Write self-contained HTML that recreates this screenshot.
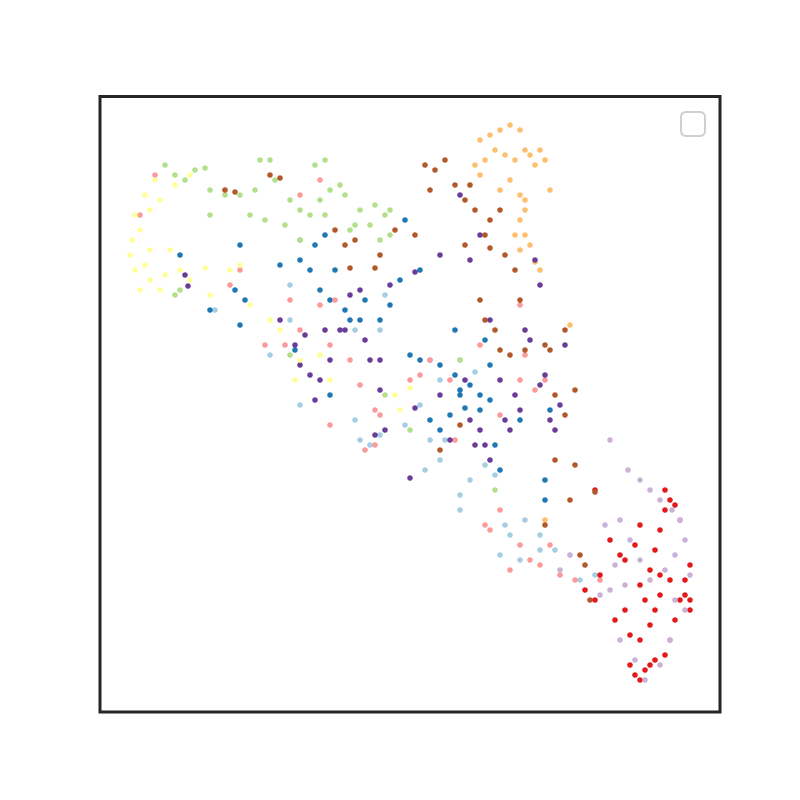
<!DOCTYPE html>
<html><head><meta charset="utf-8"><style>
html,body{margin:0;padding:0;background:#fff;}
svg{display:block;}
</style></head><body>
<svg id="chart" width="800" height="800" viewBox="0 0 800 800">
<rect x="0" y="0" width="800" height="800" fill="#fff"/>
<g id="points"></g>
<rect x="100" y="96.5" width="620" height="615.5" fill="none" stroke="#262626" stroke-width="3"/>
<rect x="681" y="112" width="24" height="24" rx="5" fill="#fff" stroke="#d0d0d0" stroke-width="2"/>
</svg>
<script>
// Series data: embedding coordinates (x, y with y axis inverted)
const seriesNames = ["light-blue","blue","light-green","pink","red","light-orange","light-purple","purple","yellow","brown"];
const seriesColors = ["#a6cee3","#1f78b4","#b2df8a","#fb9a99","#e31a1c","#fdbf6f","#cab2d6","#6a3d9a","#ffff99","#b15928"];
const yellowPts = [[135,215],[140,230],[132,240],[130,255],[135,270],[145,265],[150,280],[160,290],[145,195],[155,180],[160,200],[150,210],[170,250],[180,270],[190,280],[205,268],[140,290],[165,275],[210,295],[230,270],[250,305],[280,330],[300,360],[295,380],[320,355],[330,380],[400,410],[395,395],[410,388],[270,320],[240,265],[175,185],[190,175],[150,250]];
const lightGreenPts = [[165,165],[175,175],[185,180],[195,170],[205,168],[210,190],[225,195],[240,195],[255,190],[270,160],[260,160],[275,180],[290,200],[300,210],[310,215],[320,200],[330,190],[340,185],[315,165],[325,160],[345,195],[360,210],[375,205],[385,215],[370,225],[390,235],[380,240],[300,240],[285,225],[265,220],[250,215],[210,215],[180,290],[175,295],[290,355],[460,360],[495,490],[410,430],[385,395],[325,215],[355,225],[390,210],[350,230]];
const pinkPts = [[155,175],[140,215],[240,270],[230,285],[265,345],[285,345],[300,330],[320,305],[335,300],[330,345],[350,360],[360,385],[375,410],[365,450],[375,445],[380,415],[410,380],[420,375],[430,360],[450,380],[480,345],[520,380],[525,355],[545,380],[535,390],[500,415],[485,525],[490,530],[500,510],[520,545],[530,560],[540,565],[550,545],[560,575],[575,580],[600,580],[510,570],[455,440],[330,425],[320,180],[300,195],[520,305],[290,300],[225,190]];
const bluePts = [[180,255],[210,310],[240,325],[235,290],[245,300],[240,245],[280,265],[300,260],[315,245],[325,235],[310,270],[320,290],[330,300],[345,310],[350,320],[360,320],[365,300],[380,320],[390,305],[400,280],[405,220],[420,270],[410,355],[420,360],[430,360],[440,365],[455,375],[460,390],[470,385],[480,395],[490,400],[480,410],[465,408],[450,415],[440,430],[430,420],[485,340],[490,365],[495,445],[500,470],[520,420],[550,410],[545,500],[545,480],[455,330],[460,395],[295,350],[330,395],[300,240],[335,270]];
const purplePts = [[188,286],[185,275],[280,320],[295,345],[300,365],[310,375],[320,380],[330,360],[315,400],[340,330],[345,330],[360,290],[365,340],[370,360],[380,390],[385,430],[375,435],[410,478],[415,408],[440,395],[465,380],[470,420],[480,430],[485,445],[490,460],[500,380],[505,420],[510,430],[515,395],[520,410],[525,330],[530,340],[540,385],[550,420],[555,430],[560,405],[545,375],[565,345],[540,285],[535,260],[490,320],[480,235],[470,260],[440,255],[415,272],[390,285],[460,195],[350,295],[325,330],[305,335],[380,360],[450,440],[475,445]];
const brownPts = [[225,190],[235,192],[270,175],[280,178],[345,245],[350,268],[355,240],[395,230],[415,235],[425,165],[435,170],[430,190],[445,160],[455,185],[465,200],[470,185],[475,210],[485,235],[490,220],[500,210],[505,255],[515,270],[520,300],[480,300],[485,320],[495,330],[500,350],[510,355],[525,350],[545,345],[550,350],[555,395],[565,415],[575,390],[565,330],[555,460],[575,465],[545,525],[580,555],[585,565],[590,600],[595,492],[570,500],[490,248],[465,245],[440,450],[460,425],[375,268],[335,230],[380,255]];
const lightOrangePts = [[480,140],[490,135],[495,150],[485,160],[475,165],[500,130],[510,125],[520,130],[505,155],[515,160],[525,150],[530,155],[535,165],[540,150],[545,160],[520,195],[525,200],[525,210],[520,220],[525,235],[530,245],[520,250],[535,262],[540,270],[515,235],[500,190],[510,180],[550,190],[470,185],[480,175],[570,325],[545,520]];
const lightBluePts = [[215,310],[270,355],[300,405],[290,320],[355,420],[360,440],[370,445],[380,435],[405,425],[420,405],[430,440],[445,440],[425,470],[440,460],[460,495],[460,510],[470,480],[485,465],[495,475],[505,525],[510,535],[525,520],[540,535],[500,555],[520,560],[540,550],[555,550],[570,555],[580,580],[595,575],[385,295],[380,330],[355,330],[290,285],[440,380],[460,360],[475,372]];
const lightPurplePts = [[610,440],[628,470],[640,480],[650,490],[660,500],[672,510],[680,520],[685,540],[675,555],[665,570],[650,580],[640,560],[630,540],[620,520],[605,525],[615,565],[625,585],[610,590],[600,595],[675,600],[685,610],[670,640],[660,665],[645,680],[635,660],[620,640],[690,575],[570,555],[560,570]];
const redPts = [[595,490],[610,540],[620,555],[625,560],[635,545],[640,525],[655,550],[660,530],[665,510],[670,500],[675,505],[680,520],[690,565],[685,580],[680,600],[690,600],[675,620],[670,640],[665,655],[655,660],[650,665],[645,670],[635,675],[640,680],[630,665],[630,635],[640,640],[650,625],[655,610],[660,595],[645,600],[640,585],[650,570],[660,575],[670,580],[685,595],[625,610],[615,620],[600,575],[585,590],[595,600],[665,490],[690,610]];

const seriesData = [lightBluePts,bluePts,lightGreenPts,pinkPts,redPts,lightOrangePts,lightPurplePts,purplePts,yellowPts,brownPts];

const xDomain=[100,720], xRange=[100,720];
const yDomain=[96,712], yRange=[96,712];
function xScale(v){return xRange[0]+(v-xDomain[0])/(xDomain[1]-xDomain[0])*(xRange[1]-xRange[0]);}
function yScale(v){return yRange[0]+(v-yDomain[0])/(yDomain[1]-yDomain[0])*(yRange[1]-yRange[0]);}

const NS="http://www.w3.org/2000/svg";
const layer=document.getElementById('points');
seriesData.forEach(function(pts,si){
  const g=document.createElementNS(NS,'g');
  
  
  pts.forEach(function(p){
    const c=document.createElementNS(NS,'circle');
    c.setAttribute('cx',xScale(p[0]));
    c.setAttribute('cy',yScale(p[1]));
    c.setAttribute('r',2.8);
    c.setAttribute('fill',seriesColors[si]);
    
    
    g.appendChild(c);
  });
  layer.appendChild(g);
});
</script>
</body></html>
